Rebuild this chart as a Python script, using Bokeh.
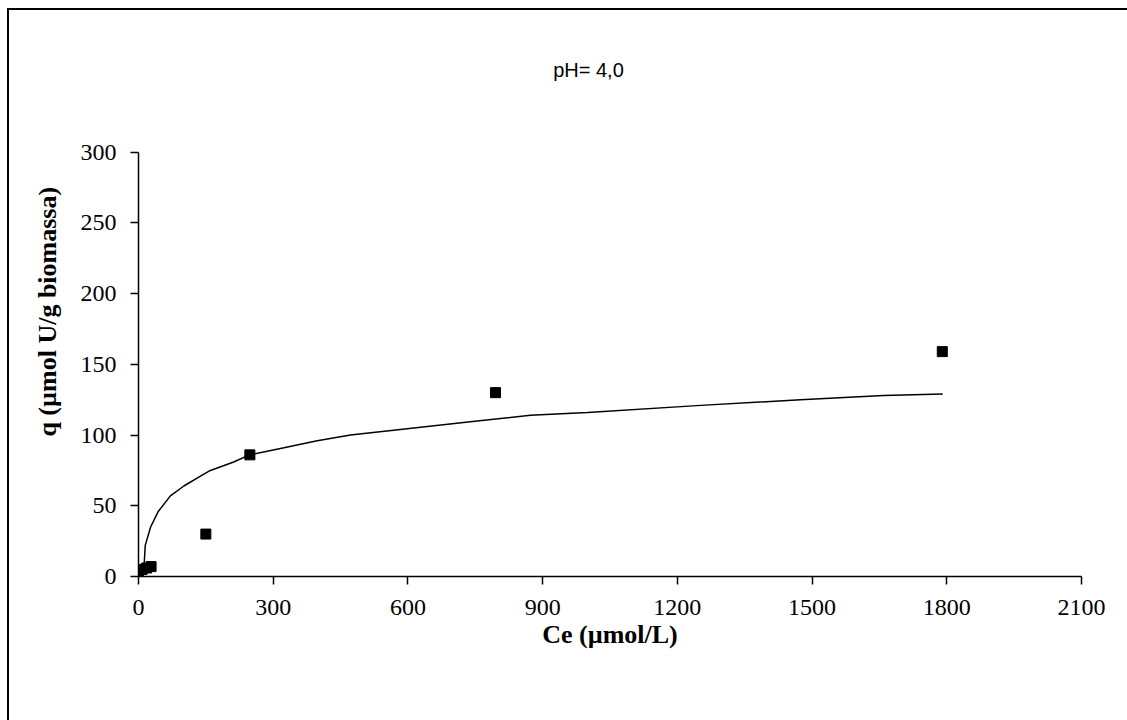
from bokeh.plotting import figure
from bokeh.layouts import column
from bokeh.models import Range1d, FixedTicker, Label
from bokeh.embed import file_html
from bokeh.resources import INLINE

# Measured uptake of U at pH 4.0
ce_obs = [0, 8, 18, 28, 150, 248, 795, 1790]
q_obs = [2, 5, 6, 7, 30, 86, 130, 159]

# Fitted isotherm curve
ce_fit = [12, 15, 27, 44, 71, 101, 138, 160, 212, 247, 324, 398, 472, 583,
          754, 873, 1000, 1252, 1474, 1659, 1791]
q_fit = [5, 22, 35, 46, 57, 64, 71, 75, 81, 86, 91, 96, 100, 104,
         110, 114, 116, 121, 125, 128, 129]

x_ticks = [0, 300, 600, 900, 1200, 1500, 1800, 2100]
y_ticks = [0, 50, 100, 150, 200, 250, 300]

SERIF = "Liberation Serif"
SANS = "Liberation Sans"

# The plot area reaches up to hold the heading; the y axis itself stops at 300
p = figure(width=1118, height=710, output_backend="svg", toolbar_location=None,
           x_range=Range1d(0, 2100), y_range=Range1d(0, 379),
           min_border_left=129, min_border_right=46,
           min_border_top=30, min_border_bottom=144)

p.outline_line_color = None
p.xgrid.visible = False
p.ygrid.visible = False
p.background_fill_color = "white"
p.border_fill_color = "white"

p.line(ce_fit, q_fit, line_color="black", line_width=1.5)
p.scatter(ce_obs, q_obs, marker="square", size=10, color="black")

for ax in (p.xaxis[0], p.yaxis[0]):
    ax.axis_line_color = "black"
    ax.axis_line_width = 1.5
    ax.major_tick_line_color = "black"
    ax.major_tick_line_width = 1.5
    ax.major_tick_out = 8
    ax.major_tick_in = 0
    ax.minor_tick_line_color = None
    ax.major_label_text_font = SERIF
    ax.major_label_text_font_size = "24px"
    ax.major_label_text_color = "black"
    ax.axis_label_text_font = SERIF
    ax.axis_label_text_font_style = "bold"
    ax.axis_label_text_font_size = "26px"
    ax.axis_label_text_color = "black"

p.xaxis.ticker = FixedTicker(ticks=x_ticks)
p.yaxis.ticker = FixedTicker(ticks=y_ticks)
p.yaxis.bounds = (0, 300)
p.xaxis.axis_label = "Ce (µmol/L)"
p.yaxis.axis_label = "q  (µmol U/g biomassa)"
p.xaxis.major_label_standoff = 15
p.yaxis.major_label_standoff = 14
p.xaxis.axis_label_standoff = 2
p.yaxis.axis_label_standoff = 16

p.add_layout(Label(x=1002, y=358, text="pH= 4,0", text_align="center",
                   text_baseline="middle", text_font=SANS,
                   text_font_size="20px", text_color="black"))

# Outer frame: only the top and left edges fall inside the page
page = column(p, margin=(8, 0, 0, 7),
              styles={"border-top": "2px solid black", "border-left": "2px solid black"})

open("out.html", "w").write(file_html(page, INLINE))
